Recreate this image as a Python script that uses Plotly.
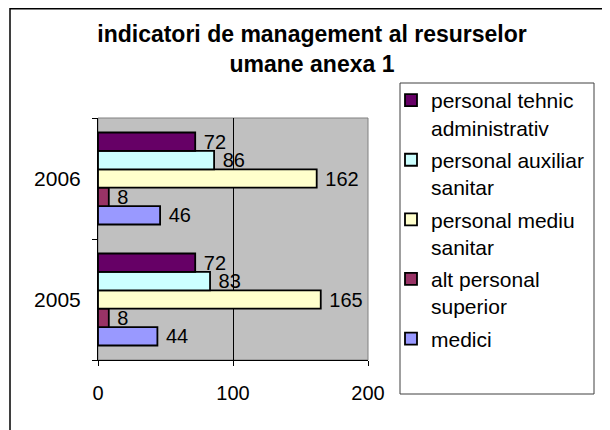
import plotly.graph_objects as go

years = ["2005", "2006"]
series_names = [
    "medici",
    "alt personal<br>superior",
    "personal mediu<br>sanitar",
    "personal auxiliar<br>sanitar",
    "personal tehnic<br>administrativ",
]
medici = [44, 46]
alt_personal_superior = [8, 8]
personal_mediu_sanitar = [165, 162]
personal_auxiliar_sanitar = [83, 86]
personal_tehnic_administrativ = [72, 72]
series_values = [medici, alt_personal_superior, personal_mediu_sanitar,
                 personal_auxiliar_sanitar, personal_tehnic_administrativ]
colors = ["#9999FF", "#993366", "#FFFFCC", "#CCFFFF", "#660066"]
x_ticks = [0, 100, 200]

W, H = 610, 430
OFF = 8  # page body margin
# plot area in screen pixels, converted to figure pixels
L, R, T, B = 98 - OFF, 368 - OFF, 118 - OFF, 360 - OFF

def px_x(p):
    return (p - OFF - L) / (R - L)

def px_y(p):
    return (B - (p - OFF)) / (B - T)

fig = go.Figure()
n = len(series_names)
for i, (name, vals, col) in enumerate(zip(series_names, series_values, colors)):
    fig.add_trace(go.Bar(
        y=years, x=vals, name=name, orientation="h",
        marker=dict(color=col, line=dict(color="black", width=1.8)),
        text=vals, texttemplate=" %{x}", textposition="outside",
        textfont=dict(family="Arial", size=20, color="black"),
        constraintext="none", cliponaxis=False,
        legendrank=n - i, legendgroup="g%d" % i,
    ))

font = dict(family="Arial", size=20, color="black")
fig.update_layout(
    width=W, height=H,
    margin=dict(l=L, r=W - R, t=T, b=H - B, pad=0, autoexpand=False),
    paper_bgcolor="white", plot_bgcolor="#C0C0C0",
    barmode="group", bargap=0.24, bargroupgap=0,
    font=font,
    title=dict(text="<b>indicatori de management al resurselor<br>umane anexa 1</b>",
               x=304 / W, xanchor="center", xref="container",
               y=1 - 34 / H, yanchor="top", yref="container",
               font=dict(family="Arial", size=23, color="black")),
    showlegend=True,
    legend=dict(x=px_x(391), y=px_y(80), xanchor="left", yanchor="top",
                xref="paper", yref="paper",
                traceorder="grouped", tracegroupgap=2, maxheight=400,
                valign="top", bgcolor="rgba(0,0,0,0)", borderwidth=0,
                font=dict(family="Arial", size=21, color="black")),
    xaxis=dict(range=[0, 200], tickvals=x_ticks, ticks="outside", ticklen=5,
               tickcolor="black", showline=True, linecolor="black", linewidth=1,
               showgrid=True, gridcolor="black", gridwidth=1, zeroline=False,
               ticklabelstandoff=10, tickfont=font, fixedrange=True,
               layer="above traces"),
    yaxis=dict(type="category", categoryorder="array", categoryarray=years,
               ticks="outside", ticklen=5, tickcolor="black", tickson="boundaries",
               showline=True, linecolor="black", linewidth=1, showgrid=False,
               ticklabelstandoff=12, tickfont=dict(family="Arial", size=21, color="black"),
               fixedrange=True, layer="above traces"),
    shapes=[
        dict(type="rect", xref="paper", yref="paper", x0=0, x1=1, y0=0, y1=1,
             line=dict(color="#808080", width=1), layer="below"),
        dict(type="rect", xref="paper", yref="paper",
             x0=px_x(400), x1=px_x(594), y0=px_y(394), y1=px_y(83),
             line=dict(color="#404040", width=1)),
        dict(type="rect", xref="paper", yref="paper",
             x0=px_x(10), x1=px_x(640), y0=px_y(460), y1=px_y(8.75),
             line=dict(color="black", width=1.5)),
    ],
)

fig.write_html("out.html")
